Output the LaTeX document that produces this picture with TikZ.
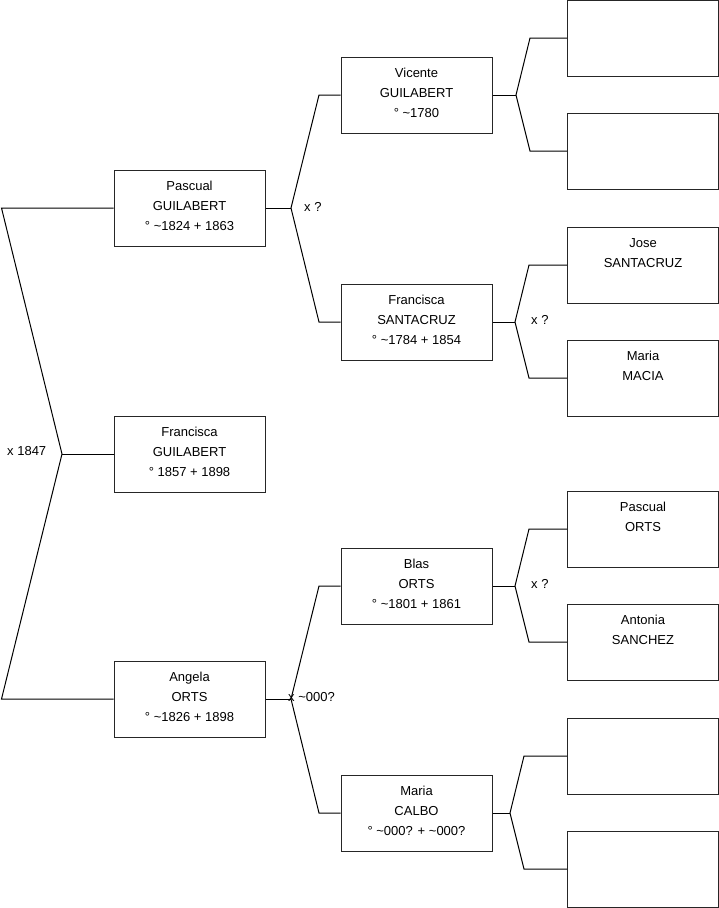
\documentclass[tikz,border=0pt]{standalone}
\usepackage{fontspec}
\setmainfont{Liberation Sans}
\begin{document}
\begin{tikzpicture}[x=1pt,y=-1pt,
  pbox/.style={draw=black!85, line width=1pt, minimum width=151pt, minimum height=76pt,
    inner sep=0pt, align=center, font=\fontsize{13}{20}\selectfont},
  conn/.style={draw=black, line width=1pt},
  lbl/.style={anchor=west, inner sep=0pt, font=\fontsize{13}{16}\selectfont}]
\useasboundingbox (0,0) rectangle (719,908);
\newcommand\ps{\rule[-7.5pt]{0pt}{20pt}}
\newcommand\pl[3]{\ps #1\\\ps #2\\\ps #3}
% generation 1
\node[pbox] (pascual) at (189.5,208) {\pl{Pascual}{GUILABERT}{° \textasciitilde1824 + 1863}};
\node[pbox] (fg) at (189.5,454) {\pl{Francisca}{GUILABERT}{° 1857 + 1898}};
\node[pbox] (angela) at (189.5,699) {\pl{Angela}{ORTS}{° \textasciitilde1826 + 1898}};
% generation 2
\node[pbox] (vicente) at (416.5,95) {\pl{Vicente}{GUILABERT}{° \textasciitilde1780}};
\node[pbox] (fsc) at (416.5,322) {\pl{Francisca}{SANTACRUZ}{° \textasciitilde1784 + 1854}};
\node[pbox] (blas) at (416.5,586) {\pl{Blas}{ORTS}{° \textasciitilde1801 + 1861}};
\node[pbox] (calbo) at (416.5,813) {\pl{Maria}{CALBO}{° \textasciitilde000? + \textasciitilde000?}};
% generation 3
\node[pbox] (g1) at (643,38) {\pl{}{}{}};
\node[pbox] (g2) at (643,151) {\pl{}{}{}};
\node[pbox] (jose) at (643,265) {\pl{Jose}{SANTACRUZ}{}};
\node[pbox] (macia) at (643,378) {\pl{Maria}{MACIA}{}};
\node[pbox] (ports) at (643,529) {\pl{Pascual}{ORTS}{}};
\node[pbox] (sanchez) at (643,642) {\pl{Antonia}{SANCHEZ}{}};
\node[pbox] (g7) at (643,756) {\pl{}{}{}};
\node[pbox] (g8) at (643,869) {\pl{}{}{}};
% root union
\coordinate (r1) at (1.5,208);
\coordinate (rj) at (62,454);
\coordinate (r2) at (1.5,699);
\draw[conn] (pascual.west) -- (r1) -- (rj) -- (r2) -- (angela.west);
\draw[conn] (rj) -- (fg.west);
\node[lbl] (l0) at (7,451) {x 1847};
% Pascual's parents
\coordinate (pj) at (291,208);
\coordinate (pa) at (319,95);
\coordinate (pb) at (319,322);
\draw[conn] (pascual.east) -- (pj);
\draw[conn] (vicente.west) -- (pa) -- (pj) -- (pb) -- (fsc.west);
\node[lbl] (l1) at (304,207) {x ?};
% Angela's parents
\coordinate (aj) at (291,699);
\coordinate (aa) at (319,586);
\coordinate (ab) at (319,813);
\draw[conn] (angela.east) -- (aj);
\draw[conn] (blas.west) -- (aa) -- (aj) -- (ab) -- (calbo.west);
\node[lbl] (l2) at (288,697) {x \textasciitilde000?};
% Vicente's parents
\coordinate (vj) at (516,95);
\coordinate (va) at (530,38);
\coordinate (vb) at (530,151);
\draw[conn] (vicente.east) -- (vj);
\draw[conn] (g1.west) -- (va) -- (vj) -- (vb) -- (g2.west);
% Francisca Santacruz's parents
\coordinate (fj) at (515,322);
\coordinate (fa) at (529,265);
\coordinate (fb) at (529,378);
\draw[conn] (fsc.east) -- (fj);
\draw[conn] (jose.west) -- (fa) -- (fj) -- (fb) -- (macia.west);
\node[lbl] (l3) at (531,320) {x ?};
% Blas's parents
\coordinate (bj) at (515,586);
\coordinate (ba) at (529,529);
\coordinate (bb) at (529,642);
\draw[conn] (blas.east) -- (bj);
\draw[conn] (ports.west) -- (ba) -- (bj) -- (bb) -- (sanchez.west);
\node[lbl] (l4) at (531,584) {x ?};
% Maria Calbo's parents
\coordinate (cj) at (510,813);
\coordinate (ca) at (524,756);
\coordinate (cb) at (524,869);
\draw[conn] (calbo.east) -- (cj);
\draw[conn] (g7.west) -- (ca) -- (cj) -- (cb) -- (g8.west);
\end{tikzpicture}
\end{document}
